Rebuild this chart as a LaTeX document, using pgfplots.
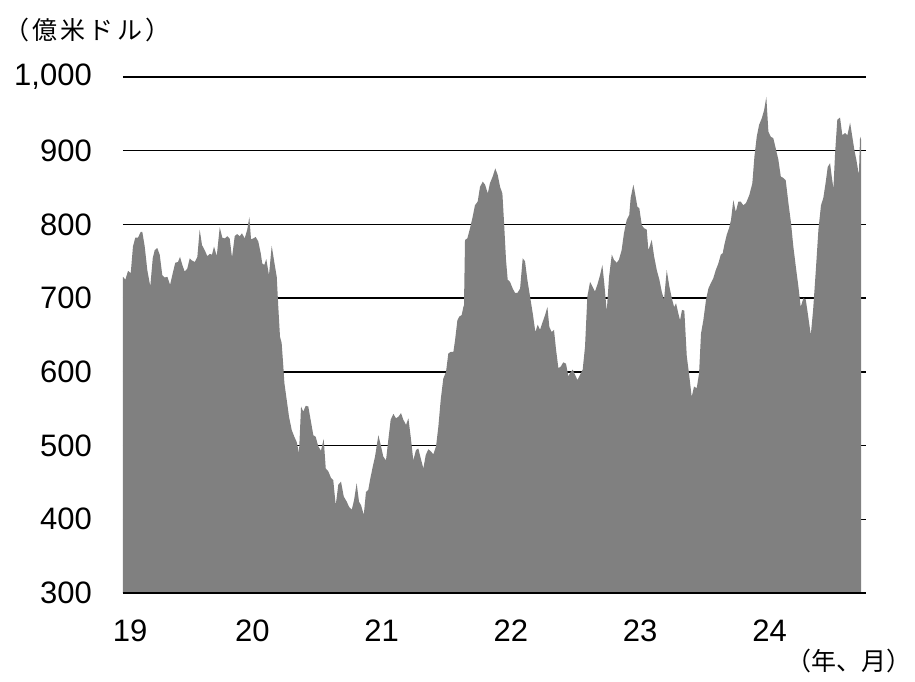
\documentclass[border=0pt]{standalone}
\usepackage{pgfplots}
\pgfplotsset{compat=1.18}
\usepackage{fontspec}
\setmainfont{Liberation Sans}
\newfontfamily\cjk[LetterSpace=13]{Noto Sans CJK JP}
\newfontfamily\cjkn{Noto Sans CJK JP}
\definecolor{areagray}{RGB}{128,128,128}
\begin{document}
\begin{tikzpicture}
\useasboundingbox (-123pt,-89pt) rectangle (792pt,593pt);
\begin{axis}[
  at={(0,0)}, anchor=south west,
  scale only axis, width=743pt, height=516pt,
  xmin=2019, xmax=2024.746, ymin=300, ymax=1000,
  axis line style={draw=none},
  tick style={draw=none},
  major tick length=0pt,
  ytick={300,400,500,600,700,800,900,1000},
  yticklabels={300,400,500,600,700,800,900,{1,000}},
  xtick={2019.055,2020,2021,2022,2023,2024},
  xticklabels={19,20,21,22,23,24},
  ymajorgrids,
  grid style={black, line width=1.3pt},
  ticklabel style={font=\fontsize{31}{36}\selectfont},
  yticklabel style={inner sep=0pt, anchor=east, xshift=-31pt},
  xticklabel style={inner sep=0pt, anchor=north, yshift=-27pt},
  clip=false,
]
\addplot[fill=areagray, draw=none] coordinates {
(2019.000,729) (2019.018,725) (2019.039,737) (2019.060,734) (2019.077,770) (2019.095,782)
(2019.116,782) (2019.137,790) (2019.149,790) (2019.168,770) (2019.188,738) (2019.211,716)
(2019.230,754) (2019.245,765) (2019.265,768) (2019.284,759) (2019.304,731) (2019.323,728)
(2019.343,729) (2019.364,718) (2019.381,731) (2019.404,748) (2019.425,749) (2019.441,756)
(2019.459,745) (2019.477,736) (2019.497,740) (2019.516,754) (2019.534,751) (2019.555,749)
(2019.575,756) (2019.593,793) (2019.611,772) (2019.632,765) (2019.652,757) (2019.671,760)
(2019.688,759) (2019.704,770) (2019.725,757) (2019.748,796) (2019.768,782) (2019.787,781)
(2019.807,784) (2019.825,781) (2019.843,755) (2019.864,784) (2019.882,787) (2019.903,784)
(2019.920,788) (2019.941,781) (2019.961,793) (2019.977,810) (2019.990,780) (2020.008,781)
(2020.026,783) (2020.046,777) (2020.065,761) (2020.077,747) (2020.093,745) (2020.108,753)
(2020.129,731) (2020.150,771) (2020.170,749) (2020.189,729) (2020.201,688) (2020.214,648)
(2020.227,639) (2020.240,607) (2020.248,585) (2020.266,562) (2020.284,539) (2020.305,521)
(2020.325,512) (2020.343,505) (2020.361,490) (2020.377,553) (2020.394,546) (2020.413,554)
(2020.433,553) (2020.454,532) (2020.472,514) (2020.490,512) (2020.510,499) (2020.531,493)
(2020.552,509) (2020.568,469) (2020.588,465) (2020.609,456) (2020.626,453) (2020.645,419)
(2020.665,447) (2020.686,451) (2020.707,431) (2020.730,424) (2020.748,417) (2020.769,413)
(2020.787,426) (2020.807,449) (2020.825,424) (2020.841,419) (2020.862,406) (2020.879,437)
(2020.897,440) (2020.910,453) (2020.931,471) (2020.949,485) (2020.975,514) (2020.993,501)
(2021.013,485) (2021.034,480) (2021.052,508) (2021.070,535) (2021.091,543) (2021.111,537)
(2021.129,539) (2021.150,544) (2021.168,535) (2021.189,528) (2021.207,537) (2021.225,512)
(2021.245,480) (2021.266,494) (2021.284,496) (2021.302,483) (2021.323,469) (2021.341,487)
(2021.361,495) (2021.382,492) (2021.400,488) (2021.421,499) (2021.439,526) (2021.457,562)
(2021.477,591) (2021.498,600) (2021.516,625) (2021.534,627) (2021.555,627) (2021.568,643)
(2021.586,670) (2021.601,675) (2021.619,677) (2021.632,688) (2021.637,690) (2021.645,779)
(2021.663,781) (2021.684,795) (2021.705,811) (2021.722,826) (2021.743,831) (2021.761,851)
(2021.782,858) (2021.800,854) (2021.821,842) (2021.838,856) (2021.859,865) (2021.879,876)
(2021.898,867) (2021.916,851) (2021.934,842) (2021.947,802) (2021.962,752) (2021.975,725)
(2021.993,722) (2022.014,713) (2022.032,707) (2022.050,707) (2022.071,713) (2022.091,754)
(2022.109,750) (2022.127,725) (2022.148,702) (2022.169,679) (2022.189,654) (2022.207,664)
(2022.225,657) (2022.246,668) (2022.264,677) (2022.282,688) (2022.297,661) (2022.315,654)
(2022.333,657) (2022.349,630) (2022.367,605) (2022.385,607) (2022.405,613) (2022.426,611)
(2022.444,594) (2022.463,600) (2022.478,603) (2022.496,596) (2022.514,589) (2022.534,596)
(2022.555,603) (2022.573,634) (2022.591,702) (2022.612,722) (2022.630,716) (2022.650,709)
(2022.668,718) (2022.689,731) (2022.707,745) (2022.722,720) (2022.741,682) (2022.759,729)
(2022.780,759) (2022.797,752) (2022.818,748) (2022.835,752) (2022.856,765) (2022.874,788)
(2022.895,806) (2022.915,813) (2022.926,836) (2022.947,854) (2022.960,842) (2022.978,824)
(2022.993,822) (2023.012,799) (2023.029,795) (2023.050,793) (2023.063,765) (2023.089,779)
(2023.107,757) (2023.128,738) (2023.148,725) (2023.166,709) (2023.184,698) (2023.205,738)
(2023.225,716) (2023.244,700) (2023.262,688) (2023.277,693) (2023.295,679) (2023.308,670)
(2023.323,684) (2023.341,683) (2023.360,621) (2023.377,598) (2023.398,566) (2023.416,580)
(2023.437,578) (2023.455,598) (2023.470,652) (2023.488,670) (2023.509,698) (2023.527,713)
(2023.545,720) (2023.565,727) (2023.584,738) (2023.604,747) (2023.623,759) (2023.638,761)
(2023.650,772) (2023.669,786) (2023.687,795) (2023.702,806) (2023.720,833) (2023.739,817)
(2023.759,831) (2023.777,831) (2023.797,826) (2023.818,829) (2023.844,840) (2023.867,856)
(2023.883,892) (2023.901,919) (2023.919,935) (2023.940,944) (2023.958,955) (2023.975,973)
(2023.991,926) (2024.009,919) (2024.029,917) (2024.048,903) (2024.068,888) (2024.087,865)
(2024.107,863) (2024.125,860) (2024.146,829) (2024.166,802) (2024.184,770) (2024.203,743)
(2024.223,716) (2024.241,688) (2024.262,700) (2024.280,698) (2024.296,679) (2024.319,650)
(2024.337,684) (2024.358,738) (2024.378,793) (2024.398,826) (2024.416,836) (2024.435,858)
(2024.450,878) (2024.468,883) (2024.481,865) (2024.494,849) (2024.507,897) (2024.524,942)
(2024.545,945) (2024.563,921) (2024.584,924) (2024.602,921) (2024.623,938) (2024.640,919)
(2024.656,901) (2024.674,885) (2024.691,867) (2024.700,919) (2024.708,915)
} \closedcycle;
\draw[black, line width=1.8pt] (rel axis cs:0,0) -- (rel axis cs:1,0);
\end{axis}
\node[anchor=west, inner sep=0pt, font=\fontsize{25}{29}\selectfont] at (-119pt,563pt) {\cjk （億米ドル）};
\node[anchor=east, inner sep=0pt, font=\fontsize{25}{29}\selectfont] at (789pt,-68pt) {\cjkn （年、月）};
\end{tikzpicture}
\end{document}
